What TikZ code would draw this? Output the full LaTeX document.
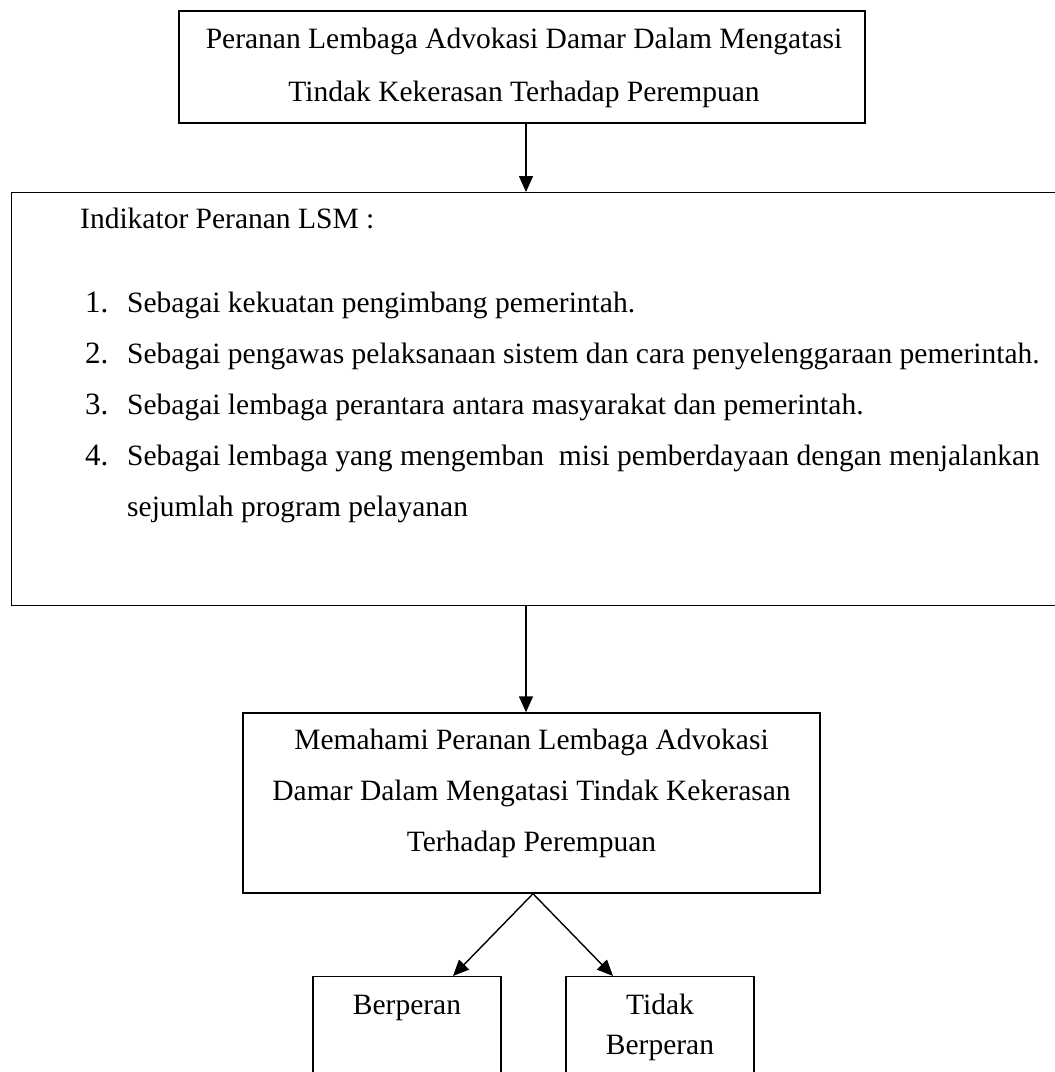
\documentclass[tikz,border=0pt]{standalone}
\usepackage{fontspec}
\setmainfont{Liberation Serif}
\usetikzlibrary{arrows.meta}

\begin{document}
\begin{tikzpicture}[x=1pt, y=-1pt,
  kotak/.style={draw, line width=1.4pt, inner sep=0pt},
  teks/.style={font=\fontsize{29.5}{35}\selectfont, inner sep=0pt, anchor=base},
  nomor/.style={font=\fontsize{31}{35}\selectfont, inner sep=0pt, anchor=base west},
  panah/.style={line width=1.4pt, -{Triangle[length=16pt, width=14pt]}}]

\useasboundingbox (0,0) rectangle (1055,1072);
\clip (0,0) rectangle (1055,1072);

% -------- Boxes -----------
\node[kotak, minimum width=686pt, minimum height=112pt] (judul) at (522,67) {};
\node[kotak, anchor=north west, minimum width=1100pt, minimum height=413pt] (indikator) at (11,192) {};
\node[kotak, minimum width=577pt, minimum height=180pt] (paham) at (531.5,803) {};
\node[kotak, anchor=north, minimum width=188pt, minimum height=150pt] (ya) at (407,976) {};
\node[kotak, anchor=north, minimum width=188pt, minimum height=150pt] (tidak) at (660,976) {};

% Title
\node[teks] (judul1) at (524,48) {Peranan Lembaga Advokasi Damar Dalam Mengatasi};
\node[teks] (judul2) at (524,101) {Tindak Kekerasan Terhadap Perempuan};

% Indicators
\node[teks, anchor=base west] (indjudul) at (80,228) {Indikator Peranan LSM :};
\node[nomor] (no1) at (85,312) {1.};
\node[teks, anchor=base west] (isi1) at (127,312) {Sebagai kekuatan pengimbang pemerintah.};
\node[nomor] (no2) at (85,363) {2.};
\node[teks, anchor=base west] (isi2) at (127,363) {Sebagai pengawas pelaksanaan sistem dan cara penyelenggaraan pemerintah.};
\node[nomor] (no3) at (85,414) {3.};
\node[teks, anchor=base west] (isi3) at (127,414) {Sebagai lembaga perantara antara masyarakat dan pemerintah.};
\node[nomor] (no4) at (85,465) {4.};
\node[teks, anchor=base west] (isi4) at (127,465) {Sebagai lembaga yang mengemban~ misi pemberdayaan dengan menjalankan};
\node[teks, anchor=base west] (isi4b) at (127,516) {sejumlah program pelayanan};

% Understanding
\node[teks] (paham1) at (531.5,749) {Memahami Peranan Lembaga Advokasi};
\node[teks] (paham2) at (531.5,800) {Damar Dalam Mengatasi Tindak Kekerasan};
\node[teks] (paham3) at (531.5,851) {Terhadap Perempuan};

% Results
\node[teks] (ya1) at (407,1014) {Berperan};
\node[teks] (tidak1) at (660,1014) {Tidak};
\node[teks] (tidak2) at (660,1054) {Berperan};

% -------- Arrows -----------
\draw[panah] ([xshift=4pt]judul.south) -- ([xshift=4pt]judul.south |- indikator.north);
\draw[panah] ([xshift=-5.5pt]paham.north |- indikator.south) -- ([xshift=-5.5pt]paham.north);
\draw[panah] ([xshift=1.5pt]paham.south) -- ([xshift=46pt]ya.north);
\draw[panah] ([xshift=1.5pt]paham.south) -- ([xshift=-47pt]tidak.north);
\end{tikzpicture}
\end{document}
